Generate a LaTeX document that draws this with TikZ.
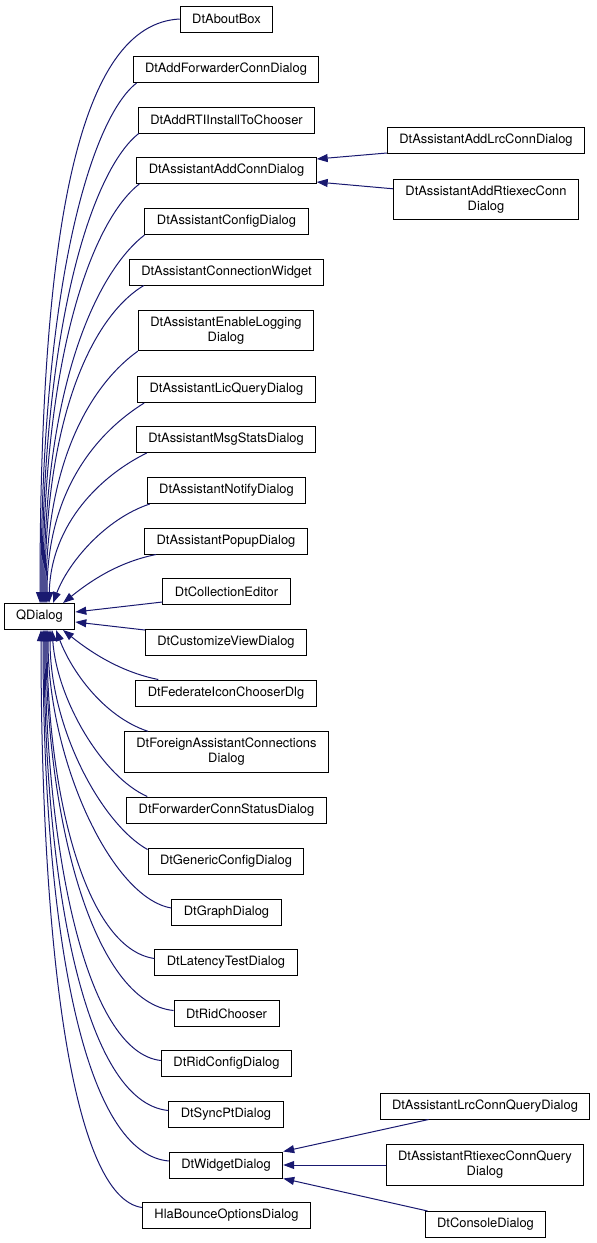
\documentclass[tikz,border=0pt]{standalone}
\usepackage{fontspec}
\setmainfont{TeX Gyre Heros}
\usetikzlibrary{arrows.meta}
\definecolor{edgeblue}{RGB}{25,25,112}
\tikzset{every picture/.style={line width=1pt}}
\tikzset{
  cls/.style={draw=black, inner xsep=12pt, inner ysep=6.5pt, minimum height=26pt,
    align=center, font=\fontsize{12.9}{15}\selectfont},
  inh/.style={draw=edgeblue, -{Triangle[length=11pt,width=8pt,fill=edgeblue]}},
}
\begin{document}
\begin{tikzpicture}[x=1pt,y=1pt,yscale=-1]
\useasboundingbox (0,0) rectangle (597,1243);

% Base class
\node[cls] (qd) at (39.5,616.5) {QDialog};

% Direct subclasses
\node[cls] (ab) at (226.5,19) {DtAboutBox};
\node[cls] (fw) at (226,69.5) {DtAddForwarderConnDialog};
\node[cls] (rt) at (226.5,120) {DtAddRTIInstallToChooser};
\node[cls] (ac) at (226.5,170.5) {DtAssistantAddConnDialog};
\node[cls] (cf) at (226.5,221.5) {DtAssistantConfigDialog};
\node[cls] (cw) at (226.5,272) {DtAssistantConnectionWidget};
\node[cls] (el) at (226,330.5) {DtAssistantEnableLogging\\Dialog};
\node[cls] (lq) at (226.5,389.5) {DtAssistantLicQueryDialog};
\node[cls] (ms) at (226,439.5) {DtAssistantMsgStatsDialog};
\node[cls] (nt) at (226.5,490.5) {DtAssistantNotifyDialog};
\node[cls] (pp) at (226,541) {DtAssistantPopupDialog};
\node[cls] (ce) at (226.5,591.5) {DtCollectionEditor};
\node[cls] (cv) at (226,642.5) {DtCustomizeViewDialog};
\node[cls] (fd) at (226,693) {DtFederateIconChooserDlg};
\node[cls] (fa) at (226.5,752) {DtForeignAssistantConnections\\Dialog};
\node[cls] (fs) at (226.5,810) {DtForwarderConnStatusDialog};
\node[cls] (gc) at (226,861) {DtGenericConfigDialog};
\node[cls] (gd) at (226.5,912) {DtGraphDialog};
\node[cls] (lt) at (226,962.5) {DtLatencyTestDialog};
\node[cls] (rc) at (226.5,1013.5) {DtRidChooser};
\node[cls] (rf) at (226.5,1063.5) {DtRidConfigDialog};
\node[cls] (sp) at (226,1114.5) {DtSyncPtDialog};
\node[cls] (wd) at (226,1165) {DtWidgetDialog};
\node[cls] (hb) at (226.5,1215.5) {HlaBounceOptionsDialog};

% Second level
\node[cls] (lr) at (486,140.5) {DtAssistantAddLrcConnDialog};
\node[cls] (rx) at (486,199.5) {DtAssistantAddRtiexecConn\\Dialog};
\node[cls] (lcq) at (485,1106) {DtAssistantLrcConnQueryDialog};
\node[cls] (rcq) at (485,1165) {DtAssistantRtiexecConnQuery\\Dialog};
\node[cls] (cd) at (485.5,1224.5) {DtConsoleDialog};

% Edges into the top of QDialog
\draw[inh] (ab.west) .. controls +(-100,5) and +(0,-380) .. ([xshift=0.5pt]qd.north);
\draw[inh] ([xshift=4pt]fw.south west) .. controls +(-45,35) and +(0,-320) .. ([xshift=1.5pt]qd.north);
\draw[inh] ([xshift=1pt]rt.south west) .. controls +(-45,35) and +(0,-285) .. ([xshift=2.5pt]qd.north);
\draw[inh] ([xshift=3pt]ac.south west) .. controls +(-45,35) and +(0,-255) .. ([xshift=3.5pt]qd.north);
\draw[inh] (cf.south west) .. controls +(-45,35) and +(0,-225) .. ([xshift=4.5pt]qd.north);
\draw[inh] ([xshift=15pt]cw.south west) .. controls +(-50,30) and +(0,-190) .. ([xshift=5.5pt]qd.north);
\draw[inh] (el.south west) .. controls +(-42,30) and +(0,-150) .. ([xshift=6.5pt]qd.north);
\draw[inh] ([xshift=7pt]lq.south west) .. controls +(-45,28) and +(0,-115) .. ([xshift=7.5pt]qd.north);
\draw[inh] ([xshift=11pt]ms.south west) .. controls +(-45,22) and +(2,-80) .. ([xshift=9.5pt]qd.north);
\draw[inh] ([xshift=3pt]nt.south west) .. controls +(-45,15) and +(15,-40) .. ([xshift=13.5pt]qd.north);
\draw[inh] ([xshift=12pt]pp.south west) .. controls +(-40,8) and +(25,-20) .. ([xshift=23.5pt]qd.north);

% Edges into the side of QDialog
\draw[inh] ([yshift=-3pt]ce.south west) -- ([yshift=-4.5pt]qd.east);
\draw[inh] ([yshift=1pt]cv.north west) -- ([yshift=5.5pt]qd.east);

% Edges into the bottom of QDialog
\draw[inh] ([xshift=23pt]fd.north west) .. controls +(-40,-8) and +(25,20) .. ([xshift=23.5pt]qd.south);
\draw[inh] ([xshift=24pt]fa.north west) .. controls +(-45,-15) and +(15,40) .. ([xshift=16.5pt]qd.south);
\draw[inh] ([xshift=21pt]fs.north west) .. controls +(-45,-20) and +(5,70) .. ([xshift=12.5pt]qd.south);
\draw[inh] ([yshift=2pt]gc.north west) .. controls +(-45,-25) and +(0,100) .. ([xshift=10.5pt]qd.south);
\draw[inh] ([yshift=-4pt]gd.west) .. controls +(-60,-10) and +(0,130) .. ([xshift=8.5pt]qd.south);
\draw[inh] ([yshift=-4pt]lt.west) .. controls +(-70,-10) and +(0,160) .. ([xshift=7.5pt]qd.south);
\draw[inh] ([yshift=-3pt]rc.west) .. controls +(-80,-8) and +(0,190) .. ([xshift=6.5pt]qd.south);
\draw[inh] ([yshift=-3pt]rf.west) .. controls +(-75,-8) and +(0,220) .. ([xshift=5.5pt]qd.south);
\draw[inh] ([yshift=-4pt]sp.west) .. controls +(-85,-8) and +(0,250) .. ([xshift=4.5pt]qd.south);
\draw[inh] ([yshift=-4pt]wd.west) .. controls +(-90,-8) and +(0,280) .. ([xshift=3.5pt]qd.south);
\draw[inh] ([yshift=-8pt]hb.west) .. controls +(-70,-10) and +(0,320) .. ([xshift=1.5pt]qd.south);

% Second level edges
\draw[inh] ([yshift=-1pt]lr.south west) -- ([yshift=2pt]ac.north east);
\draw[inh] ([yshift=10pt]rx.north west) -- ([yshift=-2pt]ac.south east);
\draw[inh] ([xshift=49pt]lcq.south west) -- (wd.north east);
\draw[inh] (rcq.west) -- (wd.east);
\draw[inh] ([xshift=3pt]cd.north west) -- (wd.south east);

\end{tikzpicture}
\end{document}
